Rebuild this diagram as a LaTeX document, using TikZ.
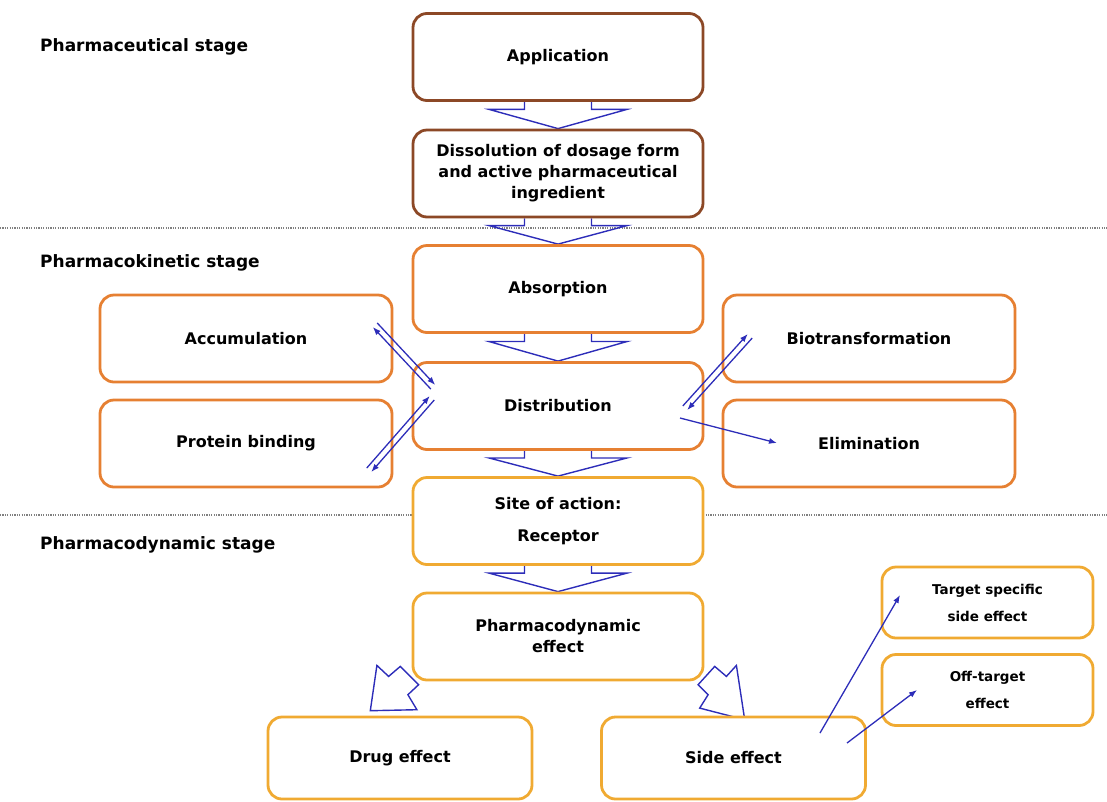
\documentclass[tikz,border=0pt]{standalone}
\usepackage{fontspec}
\setmainfont{DejaVu Sans}
\usetikzlibrary{calc,arrows.meta,backgrounds}

\definecolor{brownline}{RGB}{140,72,38}
\definecolor{orangeline}{RGB}{230,128,50}
\definecolor{goldline}{RGB}{240,170,50}
\definecolor{arrowblue}{RGB}{45,45,185}

\begin{document}
\begin{tikzpicture}[x=1pt,y=-1pt,
    box/.style={draw,line width=2.8pt,rounded corners=14pt,fill=white,align=center,
      inner sep=0pt,font=\fontsize{16}{21}\selectfont\bfseries},
    bigbox/.style={box,minimum width=290pt,minimum height=87pt},
    sidebox/.style={box,draw=orangeline,minimum width=292pt,minimum height=87pt},
    effbox/.style={box,draw=goldline,minimum width=264pt,minimum height=82pt},
    smallbox/.style={box,draw=goldline,minimum width=211pt,minimum height=71pt,
      font=\fontsize{13.5}{17}\selectfont\bfseries},
    stage/.style={anchor=west,inner sep=0pt,font=\fontsize{17}{20}\selectfont\bfseries},
    blockarr/.style={draw=arrowblue,line width=1.4pt,line join=miter},
    thinarr/.style={draw=arrowblue,line width=1.3pt,-{Latex[length=8pt,width=6pt]}},
    sepline/.style={draw=gray,line width=1.2pt,dash pattern=on 1.2pt off 1.2pt}]

  \useasboundingbox (0,0) rectangle (1107,801);

  % stages
  \node[stage] (pharmst) at (40,47) {Pharmaceutical stage};
  \node[stage] (kinst) at (40,263) {Pharmacokinetic stage};
  \node[stage] (dynst) at (40,545) {Pharmacodynamic stage};

  % main column
  \node[bigbox,draw=brownline] (app) at (558,57) {Application};
  \node[bigbox,draw=brownline] (diss) at (558,173.5)
    {Dissolution of dosage form\\and active pharmaceutical\\ingredient};
  \node[bigbox,draw=orangeline] (absorp) at (558,289) {Absorption};
  \node[bigbox,draw=orangeline] (distrib) at (558,406) {Distribution};
  \node[bigbox,draw=goldline] (site) at (558,521) {Site of action:\\[11pt]Receptor};
  \node[bigbox,draw=goldline] (pdeff) at (558,636.5) {Pharmacodynamic\\effect};

  \node[sidebox] (accum) at (246,338.5) {Accumulation};
  \node[sidebox] (protein) at (246,443.5) {Protein binding};
  \node[sidebox] (biotrans) at (869,338.5) {Biotransformation};
  \node[sidebox] (elim) at (869,443.5) {Elimination};

  \node[effbox] (drug) at (400,758) {Drug effect};
  \node[effbox] (side) at (733.5,758) {Side effect};
  \node[smallbox] (target) at (987.5,602.5) {Target specific\\[10pt]side effect};
  \node[smallbox] (offtgt) at (987.5,690) {Off-target\\[10pt]effect};

  \begin{scope}[on background layer]
    \draw[sepline] (0,228) -- (1107,228);
    \draw[sepline] (0,515) -- (1107,515);
    \foreach \a/\b in {app/diss,diss/absorp,absorp/distrib,distrib/site,site/pdeff}
      \draw[blockarr] let \p1=(\a.south), \p2=(\b.north) in
        (\x1-33.5,\y1) -- (\x1-33.5,{\y1+0.28*(\y2-\y1)}) -- (\x1-69,{\y1+0.28*(\y2-\y1)})
        -- (\x1,\y2) -- (\x1+69,{\y1+0.28*(\y2-\y1)}) -- (\x1+33.5,{\y1+0.28*(\y2-\y1)})
        -- (\x1+33.5,\y1);
    \draw[blockarr,shift={(pdeff.south west)}] (-41.3,29.3) -- (-34.7,-16) -- (-23,-5)
      -- (-11.3,-15) -- (7,3.3) -- (-3.7,13.3) -- (5.3,28.3) -- cycle;
    \draw[blockarr,shift={(pdeff.south east)}] (40.3,38.3) -- (32,-16) -- (22,-5)
      -- (10.3,-15) -- (-6.3,3.3) -- (3.7,13.3) -- (-4.7,26.7) -- cycle;
  \end{scope}

  % exchange arrows
  \coordinate (acc-end) at (375,325);
  \coordinate (acc-dis) at (433,387);
  \coordinate (pro-end) at (369,470);
  \coordinate (pro-dis) at (432,398);
  \coordinate (bio-end) at (750,336);
  \coordinate (bio-dis) at (685,408);
  \coordinate (eli-dis) at (680,418);
  \coordinate (eli-end) at (777,443);
  \coordinate (side-a) at (820,733);
  \coordinate (tgt-end) at (900,595);
  \coordinate (side-b) at (847,743);
  \coordinate (off-end) at (917,690);

  \foreach \e/\d in {acc-end/acc-dis,pro-end/pro-dis,bio-end/bio-dis}{
    \draw[thinarr] ($(\d)!3pt!90:(\e)$) -- ($(\e)!3pt!-90:(\d)$);
    \draw[thinarr] ($(\e)!3pt!90:(\d)$) -- ($(\d)!3pt!-90:(\e)$);
  }
  \draw[thinarr] (eli-dis) -- (eli-end);
  \draw[thinarr] (side-a) -- (tgt-end);
  \draw[thinarr] (side-b) -- (off-end);
\end{tikzpicture}
\end{document}
